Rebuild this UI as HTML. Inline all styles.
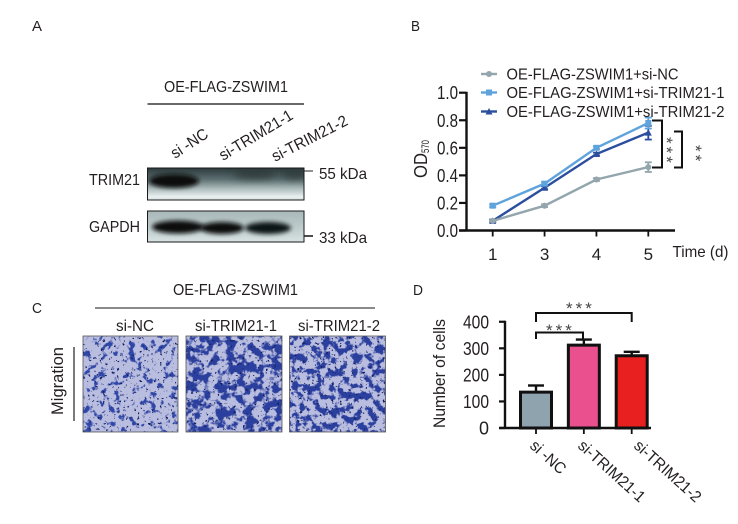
<!DOCTYPE html>
<html>
<head>
<meta charset="utf-8">
<style>
html,body{margin:0;padding:0;background:#fff}
svg{display:block}
text{font-family:"Liberation Sans",sans-serif;fill:#231f20}
</style>
</head>
<body>
<svg id="fig" xmlns="http://www.w3.org/2000/svg" width="738" height="524" viewBox="0 0 738 524">
<defs>
<linearGradient id="g1" x1="0" y1="0" x2="0" y2="1">
<stop offset="0" stop-color="#2c3a3c"/><stop offset=".35" stop-color="#5c6e70"/><stop offset=".65" stop-color="#aebdbd"/><stop offset=".9" stop-color="#eaf0f0"/><stop offset="1" stop-color="#d8e0e0"/>
</linearGradient>
<linearGradient id="g2" x1="0" y1="0" x2="0" y2="1">
<stop offset="0" stop-color="#a8b8b8"/><stop offset=".5" stop-color="#bccaca"/><stop offset="1" stop-color="#d8e2e2"/>
</linearGradient>
<filter id="blur2" x="-20%" y="-60%" width="140%" height="220%"><feGaussianBlur stdDeviation="2"/></filter>
<filter id="blur4" x="-20%" y="-60%" width="140%" height="220%"><feGaussianBlur stdDeviation="4"/></filter>
<filter id="cellsA" x="0" y="0" width="100%" height="100%" color-interpolation-filters="sRGB">
<feTurbulence type="fractalNoise" baseFrequency="0.14" numOctaves="3" seed="4"/>
<feColorMatrix type="matrix" values="0 0 0 0 0.19  0 0 0 0 0.28  0 0 0 0 0.66  9 0 0 0 -5.1"/>
</filter>
<filter id="cellsB" x="0" y="0" width="100%" height="100%" color-interpolation-filters="sRGB">
<feTurbulence type="fractalNoise" baseFrequency="0.11" numOctaves="3" seed="11"/>
<feColorMatrix type="matrix" values="0 0 0 0 0.17  0 0 0 0 0.25  0 0 0 0 0.62  9 0 0 0 -4.1"/>
</filter>
<filter id="cellsC" x="0" y="0" width="100%" height="100%" color-interpolation-filters="sRGB">
<feTurbulence type="fractalNoise" baseFrequency="0.13" numOctaves="3" seed="23"/>
<feColorMatrix type="matrix" values="0 0 0 0 0.17  0 0 0 0 0.25  0 0 0 0 0.62  9 0 0 0 -4.3"/>
</filter>
<filter id="specks" x="0" y="0" width="100%" height="100%" color-interpolation-filters="sRGB">
<feTurbulence type="fractalNoise" baseFrequency="0.35" numOctaves="2" seed="7"/>
<feColorMatrix type="matrix" values="0 0 0 0 0.08  0 0 0 0 0.12  0 0 0 0 0.38  0 14 0 0 -9.4"/>
</filter>
<clipPath id="clipT"><rect x="147.5" y="168" width="156.5" height="32"/></clipPath>
<clipPath id="clipG"><rect x="147.5" y="211" width="156.5" height="31"/></clipPath>
</defs>

<!-- Panel letters -->
<text x="32" y="31" font-size="15" textLength="10" lengthAdjust="spacingAndGlyphs">A</text>
<text x="411" y="31" font-size="15" textLength="9" lengthAdjust="spacingAndGlyphs">B</text>
<text x="32" y="313" font-size="15" textLength="10" lengthAdjust="spacingAndGlyphs">C</text>
<text x="413" y="295" font-size="15" textLength="10" lengthAdjust="spacingAndGlyphs">D</text>

<!-- Panel A -->
<g>
<text x="164" y="92" font-size="16" textLength="124" lengthAdjust="spacingAndGlyphs">OE-FLAG-ZSWIM1</text>
<line x1="147.5" y1="104" x2="304" y2="104" stroke="#111" stroke-width="1.2"/>
<text transform="translate(175,159) rotate(-33)" font-size="16" textLength="41" lengthAdjust="spacingAndGlyphs">si -NC</text>
<text transform="translate(223,161) rotate(-31)" font-size="16" textLength="83" lengthAdjust="spacingAndGlyphs">si-TRIM21-1</text>
<text transform="translate(275,162) rotate(-27)" font-size="16" textLength="83" lengthAdjust="spacingAndGlyphs">si-TRIM21-2</text>
<text x="89" y="185" font-size="16" textLength="51" lengthAdjust="spacingAndGlyphs">TRIM21</text>
<text x="89" y="232" font-size="16" textLength="51" lengthAdjust="spacingAndGlyphs">GAPDH</text>
<g clip-path="url(#clipT)">
<rect x="147" y="168" width="158" height="32" fill="url(#g1)"/>
<ellipse cx="174" cy="181" rx="25" ry="7" fill="#0c1010" filter="url(#blur2)"/>
<ellipse cx="255" cy="174" rx="22" ry="5" fill="#2a3536" opacity=".8" filter="url(#blur4)"/>
<ellipse cx="295" cy="174" rx="14" ry="5" fill="#2a3536" opacity=".8" filter="url(#blur4)"/>
</g>
<rect x="147.5" y="168" width="156.5" height="32" fill="none" stroke="#1a1a1a" stroke-width="1"/>
<g clip-path="url(#clipG)">
<rect x="147" y="211" width="158" height="31" fill="url(#g2)"/>
<ellipse cx="178" cy="227" rx="26" ry="6.5" fill="#0a0e0e" filter="url(#blur2)"/>
<ellipse cx="222" cy="228" rx="22" ry="6" fill="#0a0e0e" filter="url(#blur2)"/>
<ellipse cx="268" cy="228" rx="23" ry="6" fill="#0e1414" filter="url(#blur2)"/>
</g>
<rect x="147.5" y="211" width="156.5" height="31" fill="none" stroke="#1a1a1a" stroke-width="1"/>
<line x1="304" y1="171" x2="313" y2="171" stroke="#231f20" stroke-width="1"/>
<line x1="304" y1="236" x2="313" y2="236" stroke="#231f20" stroke-width="1.6"/>
<text x="319" y="179" font-size="16" textLength="48" lengthAdjust="spacingAndGlyphs">55 kDa</text>
<text x="319" y="243" font-size="16" textLength="48" lengthAdjust="spacingAndGlyphs">33 kDa</text>
</g>

<!-- Panel C -->
<g>
<text x="173" y="295" font-size="16" textLength="125" lengthAdjust="spacingAndGlyphs">OE-FLAG-ZSWIM1</text>
<line x1="95" y1="308" x2="375" y2="308" stroke="#444" stroke-width="1.2"/>
<text x="116" y="331" font-size="16" textLength="38" lengthAdjust="spacingAndGlyphs">si-NC</text>
<text x="195" y="331" font-size="16" textLength="82" lengthAdjust="spacingAndGlyphs">si-TRIM21-1</text>
<text x="298" y="331" font-size="16" textLength="82" lengthAdjust="spacingAndGlyphs">si-TRIM21-2</text>
<text transform="translate(63,415) rotate(-90)" font-size="17" textLength="68" lengthAdjust="spacingAndGlyphs">Migration</text>
<line x1="74" y1="347" x2="74" y2="421" stroke="#231f20" stroke-width="1.2"/>
<g>
<rect x="83" y="336" width="95" height="96" fill="#b9bddf"/>
<rect x="83" y="336" width="95" height="96" filter="url(#cellsA)"/>
<rect x="83" y="336" width="95" height="96" filter="url(#specks)"/>
<rect x="83" y="336" width="95" height="96" fill="none" stroke="#555" stroke-width=".8"/>
</g>
<g>
<rect x="186" y="336" width="96" height="96" fill="#b9bddf"/>
<rect x="186" y="336" width="96" height="96" filter="url(#cellsB)"/>
<rect x="186" y="336" width="96" height="96" filter="url(#specks)"/>
<rect x="186" y="336" width="96" height="96" fill="none" stroke="#555" stroke-width=".8"/>
</g>
<g>
<rect x="289.5" y="336" width="96" height="96" fill="#b9bddf"/>
<rect x="289.5" y="336" width="96" height="96" filter="url(#cellsC)"/>
<rect x="289.5" y="336" width="96" height="96" filter="url(#specks)"/>
<rect x="289.5" y="336" width="96" height="96" fill="none" stroke="#555" stroke-width=".8"/>
</g>
</g>

<g id="chartB"></g>
<g id="chartD"></g>
</svg>

<script>
// Panel B data
const lineCategories = ['1', '3', '4', '5'];
const lineTicks = [0, 0.2, 0.4, 0.6, 0.8, 1.0];
const seriesNames = ['OE-FLAG-ZSWIM1+si-NC', 'OE-FLAG-ZSWIM1+si-TRIM21-1', 'OE-FLAG-ZSWIM1+si-TRIM21-2'];
const seriesNC = [0.07, 0.18, 0.37, 0.46];
const seriesT1 = [0.18, 0.34, 0.60, 0.78];
const seriesT2 = [0.07, 0.31, 0.555, 0.71];
const errorNC = [0.005, 0.01, 0.01, 0.035];
const errorT1 = [0.01, 0.01, 0.01, 0.04];
const errorT2 = [0.01, 0.01, 0.01, 0.05];

// Panel D data
const barCategories = ['si -NC', 'si-TRIM21-1', 'si-TRIM21-2'];
const barValues = [135, 312, 272];
const barErrors = [25, 21, 15];
const barTicks = [0, 100, 200, 300, 400];

const NS = 'http://www.w3.org/2000/svg';
function mk(parent, tag, attrs, txt) {
  const el = document.createElementNS(NS, tag);
  for (const k in attrs) el.setAttribute(k, attrs[k]);
  if (txt !== undefined) el.textContent = txt;
  parent.appendChild(el);
  return el;
}

// ---------- Panel B ----------
const gB = document.getElementById('chartB');
const xB = i => 492.7 + (648.3 - 492.7) * i / (lineCategories.length - 1);
const yB = v => 230.5 - v * 137.8;
const colNC = '#93a5ad', colT1 = '#5fa3dc', colT2 = '#2b4e9e';

const axisYB = mk(gB, 'line', {x1: 466.5, y1: yB(1) - 1, x2: 466.5, y2: yB(0) + 1, stroke: '#111', 'stroke-width': 2.4});


const axisXB = mk(gB, 'line', {x1: 459, y1: yB(0), x2: 675, y2: yB(0), stroke: '#111', 'stroke-width': 2.4});



lineTicks.forEach(t => {
  const tick = mk(gB, 'line', {x1: 459, y1: yB(t), x2: 466, y2: yB(t), stroke: '#111', 'stroke-width': 2.2});
  
  
  const lab = mk(gB, 'text', {x: 458, y: yB(t) + 6.5, 'font-size': 18, 'text-anchor': 'end', textLength: 21, lengthAdjust: 'spacingAndGlyphs'}, t.toFixed(1));
  
  
});
lineCategories.forEach((c, i) => {
  const tick = mk(gB, 'line', {x1: xB(i), y1: yB(0), x2: xB(i), y2: yB(0) + 6, stroke: '#111', 'stroke-width': 1.8});
  
  
  const lab = mk(gB, 'text', {x: xB(i), y: 260, 'font-size': 17, 'text-anchor': 'middle'}, c);
  
  
});
const yTitleB = mk(gB, 'text', {transform: 'translate(427,178) rotate(-90)', 'font-size': 18, textLength: 25, lengthAdjust: 'spacingAndGlyphs'}, 'OD');


const yTitleSub = mk(gB, 'text', {transform: 'translate(429,153) rotate(-90)', 'font-size': 11, textLength: 13, lengthAdjust: 'spacingAndGlyphs'}, '570');


const xTitleB = mk(gB, 'text', {x: 672.5, y: 257, 'font-size': 16, textLength: 56, lengthAdjust: 'spacingAndGlyphs'}, 'Time (d)');



function marker(parent, kind, cx, cy, color, size) {
  if (kind === 0) return mk(parent, 'circle', {cx: cx, cy: cy, r: size, fill: color});
  if (kind === 1) return mk(parent, 'rect', {x: cx - size, y: cy - size, width: 2 * size, height: 2 * size, fill: color});
  return mk(parent, 'polygon', {points: (cx) + ',' + (cy - size - 0.5) + ' ' + (cx + size + 0.5) + ',' + (cy + size) + ' ' + (cx - size - 0.5) + ',' + (cy + size), fill: color});
}

function drawSeries(vals, errs, color, kind, name) {
  const g = mk(gB, 'g', {});
  
  
  const pts = vals.map((v, i) => xB(i) + ',' + yB(v)).join(' ');
  mk(g, 'polyline', {points: pts, fill: 'none', stroke: color, 'stroke-width': 2.4});
  vals.forEach((v, i) => {
    const e = errs[i];
    mk(g, 'line', {x1: xB(i), y1: yB(v - e), x2: xB(i), y2: yB(v + e), stroke: color, 'stroke-width': 1.8});
    mk(g, 'line', {x1: xB(i) - 3.5, y1: yB(v + e), x2: xB(i) + 3.5, y2: yB(v + e), stroke: color, 'stroke-width': 1.8});
    mk(g, 'line', {x1: xB(i) - 3.5, y1: yB(v - e), x2: xB(i) + 3.5, y2: yB(v - e), stroke: color, 'stroke-width': 1.8});
    const m = marker(g, kind, xB(i), yB(v), color, 3);
    
    
  });
}
drawSeries(seriesT2, errorT2, colT2, 2, 'series-si-trim21-2');
drawSeries(seriesNC, errorNC, colNC, 0, 'series-si-nc');
drawSeries(seriesT1, errorT1, colT1, 1, 'series-si-trim21-1');

const legendY = [74, 92.5, 111.5];
const legendWidth = [172, 218, 218];
const legendCol = [colNC, colT1, colT2];
seriesNames.forEach((s, i) => {
  const g = mk(gB, 'g', {});
  
  
  mk(g, 'line', {x1: 481, y1: legendY[i], x2: 497, y2: legendY[i], stroke: legendCol[i], 'stroke-width': 2.4});
  marker(g, i, 489, legendY[i], legendCol[i], 3);
  mk(g, 'text', {x: 506.5, y: legendY[i] + 5.5, 'font-size': 16, textLength: legendWidth[i], lengthAdjust: 'spacingAndGlyphs'}, s);
});

function bracketPath(parent, d, name, w) {
  const p = mk(parent, 'path', {d: d, fill: 'none', stroke: '#111', 'stroke-width': w});
  
  
}
bracketPath(gB, 'M652 120.5H662V167.5H652', 'significance-bracket-t1', 2);
bracketPath(gB, 'M674 131.5H682V167.5H674', 'significance-bracket-t2', 2);
const sB1 = mk(gB, 'text', {transform: 'translate(661,137) rotate(90)', 'font-size': 17, 'letter-spacing': 3, style: 'fill:#444'}, '***');


const sB2 = mk(gB, 'text', {transform: 'translate(690,145) rotate(90)', 'font-size': 17, 'letter-spacing': 3, style: 'fill:#444'}, '**');



// ---------- Panel D ----------
const gD = document.getElementById('chartD');
const xD = i => 536 + i * 47.85;
const yD = v => 428 - v * 0.2656;
const barFill = ['#8fa3af', '#ea4f8e', '#e8201f'];
const barLabelX = [529, 577, 633];

barCategories.forEach((c, i) => {
  const g = mk(gD, 'g', {});
  
  
  const top = yD(barValues[i] + barErrors[i]);
  mk(g, 'line', {x1: xD(i), y1: yD(barValues[i]), x2: xD(i), y2: top, stroke: '#111', 'stroke-width': 2.4});
  mk(g, 'line', {x1: xD(i) - 8, y1: top, x2: xD(i) + 8, y2: top, stroke: '#111', 'stroke-width': 2.4});
  mk(g, 'rect', {x: xD(i) - 15.5, y: yD(barValues[i]), width: 31, height: yD(0) - yD(barValues[i]), fill: barFill[i], stroke: '#111', 'stroke-width': 3});
  const tick = mk(gD, 'line', {x1: xD(i), y1: yD(0), x2: xD(i), y2: yD(0) + 6, stroke: '#111', 'stroke-width': 1.8});
  
  
  const lab = mk(gD, 'text', {transform: 'translate(' + barLabelX[i] + ',447) rotate(42)', 'font-size': 16, textLength: i === 0 ? 42 : 84, lengthAdjust: 'spacingAndGlyphs'}, c);
  
  
});
const axisYD = mk(gD, 'line', {x1: 505, y1: yD(400) - 1, x2: 505, y2: yD(0) + 1, stroke: '#111', 'stroke-width': 2.4});


const axisXD = mk(gD, 'line', {x1: 499, y1: yD(0), x2: 651, y2: yD(0), stroke: '#111', 'stroke-width': 2.4});


barTicks.forEach(t => {
  const tick = mk(gD, 'line', {x1: 499, y1: yD(t), x2: 505, y2: yD(t), stroke: '#111', 'stroke-width': 2.2});
  
  
  const attrs = {x: 489, y: yD(t) + 6.5, 'font-size': 18, 'text-anchor': 'end'};
  if (t > 0) { attrs.textLength = 26; attrs.lengthAdjust = 'spacingAndGlyphs'; }
  const lab = mk(gD, 'text', attrs, String(t));
  
  
});
const yTitleD = mk(gD, 'text', {transform: 'translate(445,428) rotate(-90)', 'font-size': 17, textLength: 109, lengthAdjust: 'spacingAndGlyphs'}, 'Number of cells');


bracketPath(gD, 'M536 322V313H631.7V322', 'significance-bracket-top', 2);
bracketPath(gD, 'M536 339V332.5H583V340', 'significance-bracket-lower', 2);
const sD1 = mk(gD, 'text', {x: 566, y: 314, 'font-size': 17, 'letter-spacing': 3, style: 'fill:#444'}, '***');


const sD2 = mk(gD, 'text', {x: 546, y: 336, 'font-size': 17, 'letter-spacing': 3, style: 'fill:#444'}, '***');


</script>
</body>
</html>
